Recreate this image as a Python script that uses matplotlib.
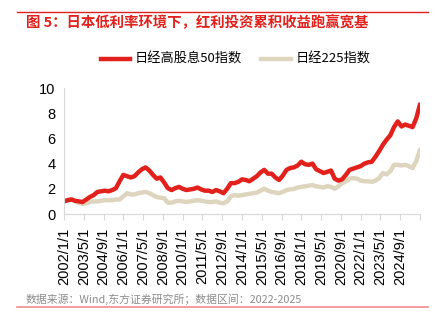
import numpy as np
import pandas as pd
import matplotlib
matplotlib.use("Agg")
import matplotlib.pyplot as plt

plt.rcParams['font.family'] = ['Liberation Sans', 'Noto Sans CJK SC', 'DejaVu Sans']

# quarterly points, 2002/1 onward
high_div = [1.0, 1.1, 1.15, 1.05, 1.0, 0.95, 1.15, 1.35, 1.5, 1.75,
            1.8, 1.85, 1.8, 1.9, 2.05, 2.6, 3.1, 3.0, 2.9, 3.0,
            3.3, 3.55, 3.7, 3.45, 3.1, 2.8, 2.9, 2.5, 2.05, 1.9,
            2.05, 2.15, 2.0, 1.9, 1.95, 2.0, 2.1, 1.95, 1.85, 1.85,
            1.75, 1.9, 1.8, 1.65, 2.0, 2.45, 2.45, 2.55, 2.75, 2.7,
            2.6, 2.8, 3.0, 3.3, 3.5, 3.2, 3.2, 2.9, 2.7, 3.05,
            3.5, 3.65, 3.7, 3.85, 4.15, 3.95, 3.9, 4.0, 3.55, 3.4,
            3.25, 3.35, 3.45, 2.8, 2.65, 2.75, 3.1, 3.5, 3.6, 3.7,
            3.8, 4.0, 4.1, 4.15, 4.55, 5.0, 5.5, 5.9, 6.25, 6.9,
            7.35, 6.95, 7.1, 7.0, 6.9, 7.6, 8.7]
nikkei225 = [1.0, 1.1, 1.2, 1.0, 0.9, 0.8, 0.85, 0.95, 1.0, 1.0,
             1.05, 1.1, 1.1, 1.1, 1.15, 1.15, 1.4, 1.65, 1.55, 1.55,
             1.65, 1.7, 1.75, 1.65, 1.5, 1.35, 1.3, 1.25, 0.9, 0.9,
             1.0, 1.05, 1.0, 0.95, 1.0, 1.05, 1.1, 1.05, 1.0, 0.95,
             0.95, 1.0, 0.9, 0.85, 1.0, 1.4, 1.5, 1.45, 1.5, 1.55,
             1.6, 1.65, 1.7, 1.85, 2.0, 1.85, 1.75, 1.7, 1.65, 1.75,
             1.9, 1.95, 2.0, 2.1, 2.15, 2.2, 2.25, 2.3, 2.2, 2.15,
             2.1, 2.2, 2.15, 2.0, 2.2, 2.45, 2.6, 2.8, 2.85, 2.8,
             2.65, 2.6, 2.6, 2.55, 2.65, 2.85, 3.25, 3.15, 3.4, 3.9,
             3.9, 3.85, 3.9, 3.8, 3.65, 4.2, 5.1]
tick_labels = ['2002/1/1', '2003/5/1', '2004/9/1', '2006/1/1', '2007/5/1',
               '2008/9/1', '2010/1/1', '2011/5/1', '2012/9/1', '2014/1/1',
               '2015/5/1', '2016/9/1', '2018/1/1', '2019/5/1', '2020/9/1',
               '2022/1/1', '2023/5/1', '2024/9/1']

RED = '#E3211C'
BEIGE = '#DED5BF'

fig = plt.figure(figsize=(4.48, 3.25), dpi=100)
ax = fig.add_axes([64/448, 1-214/325, (420-64)/448, (214-88)/325])

months = np.arange(len(high_div)) * 3
ax.plot(months, nikkei225, color=BEIGE, lw=3.2, solid_capstyle='round')
ax.plot(months, high_div, color=RED, lw=3.2, solid_capstyle='round')

ax.set_xlim(0, months[-1])
ax.set_ylim(0, 10)
ax.set_yticks(range(0, 11, 2))
ax.tick_params(axis='y', length=0, labelsize=10.5, pad=6)
ticks = np.arange(0, months[-1] + 1, 16)
ax.set_xticks(ticks)
ax.set_xticklabels(tick_labels + [''] * (len(ticks) - len(tick_labels)),
                   rotation=90, fontsize=10.5)
ax.tick_params(axis='x', length=4, color='#D9D9D9', pad=6)
for s in ['top', 'right']:
    ax.spines[s].set_visible(False)
for s in ['left', 'bottom']:
    ax.spines[s].set_color('#D9D9D9')

# title, legend and source
fig.add_artist(plt.Line2D([17/448, 428/448], [1-12/325, 1-12/325], color=RED, lw=1))
fig.text(26/448, 1-23/325, '图 5：日本低利率环境下，红利投资累积收益跑赢宽基',
         color=RED, fontsize=10.4, fontweight='bold', va='center',
         family=['Noto Sans CJK SC', 'DejaVu Sans'])

fig.add_artist(plt.Line2D([101/448, 130/448], [1-59/325, 1-59/325], color=RED, lw=3.2))
fig.text(135/448, 1-59/325, '日经高股息50指数', fontsize=9.5, va='center',
         family=['Noto Sans CJK SC', 'DejaVu Sans'])
fig.add_artist(plt.Line2D([261/448, 291/448], [1-59/325, 1-59/325], color=BEIGE, lw=3.2))
fig.text(296/448, 1-59/325, '日经225指数', fontsize=9.5, va='center',
         family=['Noto Sans CJK SC', 'DejaVu Sans'])

fig.text(26/448, 1-299/325, '数据来源：Wind,东方证券研究所；数据区间：2022-2025',
         color='#8C8C8C', fontsize=7.8, va='center',
         family=['Noto Sans CJK SC', 'DejaVu Sans'])
fig.add_artist(plt.Line2D([17/448, 428/448], [1-307/325, 1-307/325], color='#F08C8C', lw=1.2))

fig.savefig('out.png', dpi=100)
